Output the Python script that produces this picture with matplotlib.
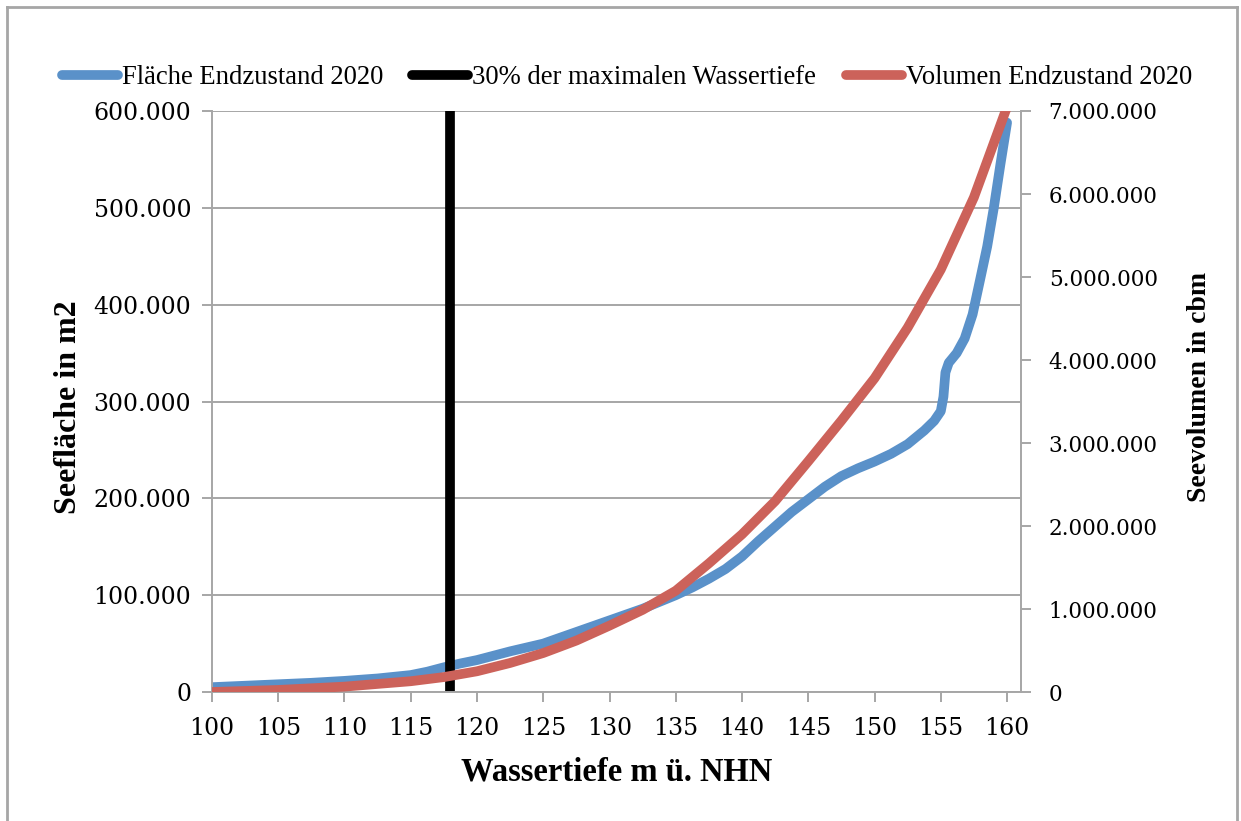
import matplotlib.pyplot as plt
from matplotlib.lines import Line2D
from matplotlib.ticker import FuncFormatter

# Wassertiefe (m ü. NHN) und Seefläche (m2)
tiefe_flaeche = [100, 102.5, 105, 107.5, 110, 112.5, 115, 116.25, 117.5, 118.75, 120,
                 122.5, 125, 127.5, 130, 132.5, 135, 136.25, 137.5, 138.75, 140,
                 141.25, 142.5, 143.75, 145, 146.25, 147.5, 148.75, 150, 151.25,
                 152.5, 153.75, 154.5, 155, 155.2, 155.35, 155.6, 156.2, 156.8,
                 157.4, 158, 158.5, 159, 159.5, 160]
flaeche = [5000, 6500, 8000, 9500, 11500, 14000, 17500, 21000, 25500, 29500, 33000,
           42000, 50000, 62000, 74000, 86000, 100000, 108000, 117000, 127000, 140000,
           156000, 171000, 186000, 199000, 212000, 223000, 231000, 238000, 246000,
           256000, 270000, 280000, 290000, 305000, 330000, 340000, 350000, 365000,
           390000, 428000, 460000, 500000, 545000, 588000]

# Wassertiefe und Seevolumen (cbm)
tiefe_volumen = [100, 105, 110, 115, 117.5, 120, 122.5, 125, 127.5, 130, 132.5,
                 135, 137.5, 140, 142.5, 145, 147.5, 150, 152.5, 155, 157.5, 160]
volumen = [0, 25000, 65000, 130000, 180000, 250000, 350000, 470000, 620000, 800000,
           990000, 1220000, 1550000, 1900000, 2300000, 2780000, 3270000, 3780000,
           4390000, 5090000, 5960000, 7050000]

# 30% der maximalen Wassertiefe
marke_x = [118, 118]
marke_y = [0, 600000]

x_ticks = list(range(100, 161, 5))
links_ticks = list(range(0, 600001, 100000))
rechts_ticks = list(range(0, 7000001, 1000000))

blau = '#5A91C9'
rot = '#CC625A'
grau = '#A6A6A6'


def punkte(v, pos):
    return f'{int(v):,}'.replace(',', '.')


fig = plt.figure(figsize=(12.41, 8.21), dpi=100)
ax = fig.add_axes([0.1708, 0.1571, 0.6519, 0.7077])
ax2 = ax.twinx()

l1, = ax.plot(tiefe_flaeche, flaeche, color=blau, lw=7, solid_capstyle='round',
              solid_joinstyle='round', label='Fläche Endzustand 2020')
l2, = ax.plot(marke_x, marke_y, color='black', lw=7, solid_capstyle='round',
              label='30% der maximalen Wassertiefe')
l3, = ax2.plot(tiefe_volumen, volumen, color=rot, lw=7, solid_capstyle='round',
               solid_joinstyle='round', label='Volumen Endzustand 2020')

ax.set_xlim(100, 161.05)
ax.set_ylim(0, 600000)
ax2.set_ylim(0, 7000000)
ax.set_xticks(x_ticks)
ax.set_yticks(links_ticks)
ax2.set_yticks(rechts_ticks)
ax.yaxis.set_major_formatter(FuncFormatter(punkte))
ax2.yaxis.set_major_formatter(FuncFormatter(punkte))

ax.grid(axis='y', color=grau, lw=1.4)
ax.set_axisbelow(True)
for a in (ax, ax2):
    a.spines['top'].set_visible(False)
    for s in ('left', 'right', 'bottom'):
        a.spines[s].set_color(grau)
        a.spines[s].set_linewidth(1.4)
ax.spines['right'].set_visible(False)
ax2.spines['left'].set_visible(False)
ax2.spines['bottom'].set_visible(False)

ax.tick_params(axis='both', colors=grau, length=7, width=1.4)
ax.tick_params(axis='y', labelcolor='black', labelsize=17, pad=8)
ax.tick_params(axis='x', labelcolor='black', labelsize=17, pad=11)
ax2.tick_params(axis='y', colors=grau, labelcolor='black', labelsize=15.5, length=7,
                width=1.4, pad=13)
for lab in ax.get_xticklabels() + ax.get_yticklabels() + ax2.get_yticklabels():
    lab.set_family('DejaVu Serif')

ax.set_xlabel('Wassertiefe m ü. NHN', family='Liberation Serif', weight='bold',
              fontsize=23.5, labelpad=12)
ax.set_ylabel('Seefläche in m2', family='Liberation Serif', weight='bold',
              fontsize=23)
ax.yaxis.set_label_coords(-0.16, 0.49)
ax2.set_ylabel('Seevolumen in cbm', family='Liberation Serif', weight='bold',
               fontsize=20)
ax2.yaxis.set_label_coords(1.205, 0.525)

fig.legend(handles=[l1, l2, l3], loc='center', bbox_to_anchor=(0.505, 0.905), ncol=3,
           frameon=False, handlelength=2.1, handletextpad=0.15, columnspacing=1.1,
           prop={'family': 'Liberation Serif', 'size': 19.2})

# Rahmen um das Diagramm
for xs, ys in (([0.0056, 0.0056], [0, 0.9915]), ([0.0056, 0.9968], [0.9915, 0.9915]),
               ([0.9968, 0.9968], [0, 0.9915])):
    fig.add_artist(Line2D(xs, ys, transform=fig.transFigure, color=grau, lw=2))

fig.savefig('out.png', dpi=100)
